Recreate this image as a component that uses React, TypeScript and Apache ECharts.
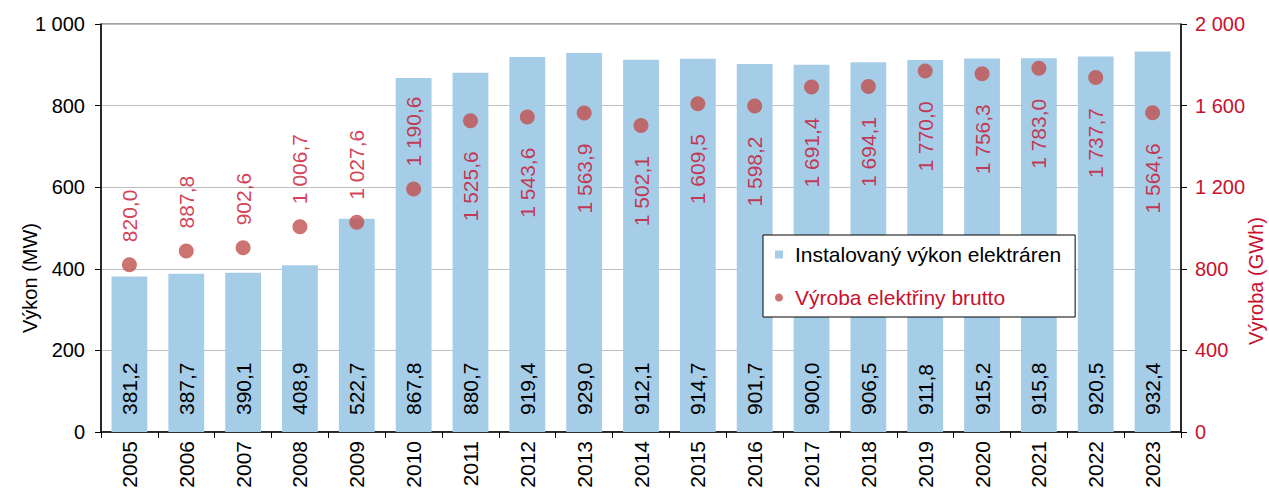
import React, { useEffect, useRef } from "react";
import * as echarts from "echarts";

const years = ["2005","2006","2007","2008","2009","2010","2011","2012","2013","2014","2015","2016","2017","2018","2019","2020","2021","2022","2023"];
const capacityMW = [381.2, 387.7, 390.1, 408.9, 522.7, 867.8, 880.7, 919.4, 929.0, 912.1, 914.7, 901.7, 900.0, 906.5, 911.8, 915.2, 915.8, 920.5, 932.4];
const productionGWh = [820.0, 887.8, 902.6, 1006.7, 1027.6, 1190.6, 1525.6, 1543.6, 1563.9, 1502.1, 1609.5, 1598.2, 1691.4, 1694.1, 1770.0, 1756.3, 1783.0, 1737.7, 1564.6];
// label placement of production values: above the point for the first six years, below afterwards
const productionLabelAbove = [true, true, true, true, true, true, false, false, false, false, false, false, false, false, false, false, false, false, false];

const FONT = "Liberation Sans";
const RED = "#C8102E";

function fmtNum(v: number, dec: number): string {
  const s = v.toFixed(dec);
  const [i, d] = s.split(".");
  const ii = i.replace(/\B(?=(\d{3})+(?!\d))/g, " ");
  return d !== undefined ? ii + "," + d : ii;
}

export default function App() {
  const ref = useRef<HTMLDivElement>(null);
  useEffect(() => {
    const chart = echarts.init(ref.current!, null, { renderer: "svg" });
    const scatterData = productionGWh.map((v, i) => ({
      value: v,
      label: productionLabelAbove[i]
        ? { position: "top", align: "left", distance: 15 }
        : { position: "bottom", align: "right", distance: 23 },
    }));
    chart.setOption({
      animation: false,
      backgroundColor: "#ffffff",
      textStyle: { fontFamily: FONT },
      grid: { left: 101, right: 88, top: 24, bottom: 60, show: true, borderColor: "#404040", borderWidth: 1, backgroundColor: "transparent" },
      legend: {
        orient: "vertical",
        left: 763,
        top: 235,
        padding: [9, 14, 9, 12],
        itemGap: 22,
        itemWidth: 8,
        itemHeight: 8,
        backgroundColor: "#ffffff",
        borderColor: "#000000",
        borderWidth: 1,
        textStyle: { fontFamily: FONT, fontSize: 21, color: "#000", padding: [0, 0, 0, 7] },
        data: [
          { name: "Instalovaný výkon elektráren", icon: "rect", textStyle: { color: "#000" } },
          { name: "Výroba elektřiny brutto", icon: "circle", textStyle: { color: RED } },
        ],
      },
      xAxis: {
        type: "category",
        data: years,
        boundaryGap: true,
        axisLine: { lineStyle: { color: "#000", width: 1.5 } },
        axisTick: { show: true, length: 6, lineStyle: { color: "#000" } },
        axisLabel: { rotate: 90, fontSize: 21, color: "#000", fontFamily: FONT, margin: 9 },
      },
      yAxis: [
        {
          type: "value",
          min: 0,
          max: 1000,
          interval: 200,
          axisLine: { show: true, lineStyle: { color: "#000", width: 1.5 } },
          axisTick: { show: true, length: 6, lineStyle: { color: "#000" } },
          axisLabel: { fontSize: 20, color: "#000", fontFamily: FONT, margin: 16, formatter: (v: number) => fmtNum(v, 0) },
          splitLine: { show: true, lineStyle: { color: "#BFBFBF", width: 1 } },
        },
        {
          type: "value",
          min: 0,
          max: 2000,
          interval: 400,
          position: "right",
          axisLine: { show: true, lineStyle: { color: "#000", width: 1.5 } },
          axisTick: { show: true, length: 6, lineStyle: { color: "#000" } },
          axisLabel: { fontSize: 20, color: RED, fontFamily: FONT, margin: 14, formatter: (v: number) => fmtNum(v, 0) },
          splitLine: { show: false },
        },
      ],
      graphic: [
        {
          type: "text",
          x: 30,
          y: 278,
          rotation: Math.PI / 2,
          style: { text: "Výkon (MW)", fontFamily: FONT, fontSize: 20, fill: "#000", align: "center", verticalAlign: "middle" },
        },
        {
          type: "text",
          x: 1256,
          y: 281,
          rotation: Math.PI / 2,
          style: { text: "Výroba (GWh)", fontFamily: FONT, fontSize: 20, fill: RED, align: "center", verticalAlign: "middle" },
        },
      ],
      series: [
        {
          name: "Instalovaný výkon elektráren",
          type: "bar",
          yAxisIndex: 0,
          data: capacityMW,
          barWidth: "63%",
          itemStyle: { color: "#A6CDE8" },
          label: {
            show: true,
            position: "insideBottom",
            rotate: 90,
            align: "left",
            verticalAlign: "middle",
            distance: 17,
            fontSize: 21,
            color: "#000",
            fontFamily: FONT,
            formatter: (p: any) => fmtNum(p.value, 1),
          },
        },
        {
          name: "Výroba elektřiny brutto",
          type: "scatter",
          yAxisIndex: 1,
          data: scatterData,
          symbol: "circle",
          symbolSize: 15,
          itemStyle: { color: "#C0504D" },
          label: {
            show: true,
            position: "top",
            rotate: 90,
            align: "left",
            verticalAlign: "middle",
            distance: 15,
            fontSize: 21,
            color: RED,
            fontFamily: FONT,
            formatter: (p: any) => fmtNum(p.value, 1),
          },
        },
      ],
    });
    return () => chart.dispose();
  }, []);
  return <div ref={ref} style={{ position: "absolute", left: 0, top: 0, width: 1269, height: 492 }} />;
}
